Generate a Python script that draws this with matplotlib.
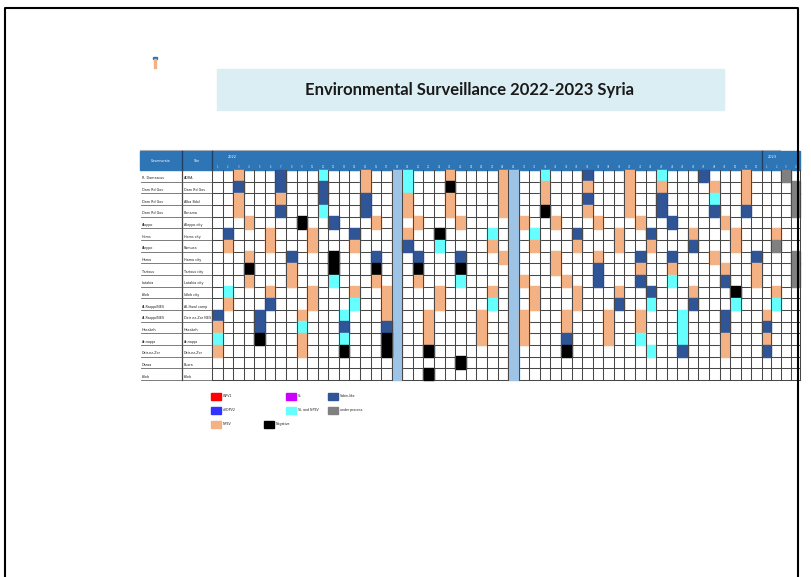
import matplotlib.pyplot as plt
from matplotlib.patches import Rectangle

# Сайти спостереження (губернаторство, місце відбору)
governorates = ["R. Damascus", "Dam Rd Gov", "Dam Rd Gov", "Dam Rd Gov", "Aleppo", "Homs",
                "Aleppo", "Hama", "Tartous", "Latakia", "Idleb", "Al-Raqqa/NES",
                "Al-Raqqa/NES", "Hasakeh", "Ar-raqqa", "Deir-ez-Zor", "Daraa", "Idleb"]
sites = ["ADRA", "Dam Rd Gov", "Alba Bdol", "Bonama", "Aleppo city", "Homs city",
         "Ramusa", "Hama city", "Tartous city", "Latakia city", "Idleb city", "Al-Hawl camp",
         "Deir ez-Zor NES", "Hasakeh", "Ar-raqqa", "Deir-ez-Zor", "Busra", "Idleb"]

# Результати по тижнях: (тиждень, код)
# O - NPEV, D - Sabin-like, C - SL and NPEV, K - negative, G - under process
res_2022 = [
    [(3, 'O'), (7, 'D'), (11, 'C'), (15, 'O'), (19, 'C'), (23, 'O'), (28, 'O'), (32, 'C'), (36, 'D'), (40, 'O'), (43, 'C'), (47, 'D'), (51, 'O')],
    [(3, 'D'), (7, 'D'), (11, 'D'), (15, 'O'), (19, 'C'), (23, 'K'), (28, 'O'), (32, 'O'), (36, 'O'), (40, 'O'), (43, 'O'), (48, 'O'), (51, 'O')],
    [(3, 'O'), (7, 'O'), (11, 'D'), (15, 'D'), (19, 'O'), (23, 'O'), (28, 'O'), (32, 'O'), (36, 'D'), (40, 'O'), (43, 'D'), (48, 'C'), (51, 'O')],
    [(3, 'O'), (7, 'D'), (11, 'C'), (15, 'D'), (19, 'O'), (23, 'O'), (28, 'O'), (32, 'K'), (36, 'O'), (40, 'O'), (43, 'D'), (48, 'D'), (51, 'D')],
    [(4, 'O'), (9, 'K'), (12, 'D'), (16, 'O'), (20, 'O'), (24, 'O'), (30, 'O'), (33, 'O'), (37, 'O'), (41, 'O'), (44, 'D'), (49, 'O')],
    [(2, 'D'), (6, 'O'), (10, 'O'), (14, 'D'), (19, 'O'), (22, 'K'), (27, 'C'), (31, 'C'), (35, 'D'), (39, 'O'), (42, 'D'), (46, 'O'), (50, 'O')],
    [(2, 'O'), (6, 'O'), (10, 'O'), (14, 'O'), (19, 'D'), (22, 'C'), (27, 'O'), (31, 'O'), (35, 'O'), (39, 'O'), (42, 'O'), (46, 'D'), (50, 'O')],
    [(4, 'O'), (8, 'D'), (12, 'K'), (16, 'D'), (20, 'D'), (24, 'D'), (28, 'O'), (33, 'O'), (37, 'O'), (41, 'D'), (44, 'D'), (48, 'O'), (52, 'D')],
    [(4, 'K'), (8, 'O'), (12, 'K'), (16, 'K'), (20, 'K'), (24, 'K'), (33, 'O'), (37, 'D'), (41, 'O'), (44, 'O'), (49, 'O'), (52, 'O')],
    [(4, 'O'), (8, 'O'), (12, 'C'), (16, 'O'), (20, 'O'), (24, 'C'), (30, 'O'), (34, 'O'), (37, 'D'), (41, 'D'), (44, 'C'), (49, 'D'), (52, 'O')],
    [(2, 'C'), (6, 'O'), (10, 'O'), (14, 'O'), (17, 'O'), (22, 'O'), (27, 'O'), (31, 'O'), (35, 'O'), (39, 'O'), (42, 'D'), (46, 'O'), (50, 'K')],
    [(2, 'O'), (6, 'D'), (10, 'O'), (14, 'C'), (17, 'O'), (22, 'O'), (27, 'C'), (31, 'O'), (35, 'O'), (39, 'D'), (42, 'C'), (46, 'D'), (50, 'C')],
    [(1, 'D'), (5, 'D'), (9, 'O'), (13, 'C'), (17, 'O'), (21, 'O'), (26, 'O'), (30, 'O'), (34, 'O'), (38, 'O'), (41, 'O'), (45, 'C'), (49, 'D')],
    [(1, 'O'), (5, 'D'), (9, 'C'), (13, 'D'), (17, 'D'), (21, 'O'), (26, 'O'), (30, 'O'), (34, 'O'), (38, 'O'), (41, 'O'), (45, 'C'), (49, 'D')],
    [(1, 'C'), (5, 'K'), (9, 'O'), (13, 'C'), (17, 'K'), (21, 'O'), (26, 'O'), (30, 'O'), (34, 'D'), (38, 'O'), (41, 'C'), (45, 'C'), (49, 'O')],
    [(1, 'O'), (9, 'O'), (13, 'K'), (17, 'K'), (21, 'K'), (34, 'K'), (42, 'C'), (45, 'D'), (49, 'O')],
    [(24, 'K')],
    [(21, 'K')],
]
res_2023 = [
    [(3, 'G')], [(4, 'G')], [(4, 'G')], [(4, 'G')], [], [(2, 'O')], [(2, 'G')], [(4, 'G')],
    [(4, 'G')], [(4, 'G')], [(2, 'O')], [(2, 'C')], [(1, 'O')], [(1, 'D')], [(1, 'O')],
    [(1, 'D')], [], [],
]

weeks_2022 = list(range(1, 53))
weeks_2023 = [1, 2, 3, 4]
holiday_weeks = [18, 29]  # світло-сині колонки

colors = {'O': '#F4B183', 'D': '#2F5597', 'C': '#66FFFF', 'K': '#000000', 'G': '#808080',
          'R': '#FF0000', 'B': '#3333FF', 'M': '#CC00FF'}

legend_labels = ["WPV1", "cVDPV2", "NPEV", "SL", "SL and NPEV", "Negative", "Sabin-like", "under process"]
legend_codes = ['R', 'B', 'O', 'M', 'C', 'K', 'D', 'G']
legend_pos = [(211, 393), (211, 407), (211, 421), (286, 393), (286, 407), (264, 421), (328, 393), (328, 407)]

# Геометрія таблиці (пікселі)
X0, W = 212, 10.575
X23, W23 = X0 + 52 * W, 9.55
Y0, H = 170, 11.67
HEAD_TOP = 151
GRID = '#474747'

fig = plt.figure(figsize=(8.12, 5.77), dpi=100)
ax = fig.add_axes([0, 0, 1, 1])
ax.set_xlim(0, 812)
ax.set_ylim(577, 0)
ax.axis('off')

def wx(week, year=2022):
    if year == 2022:
        return X0 + (week - 1) * W, W
    return X23 + (week - 1) * W23, W23

n_rows = len(sites)
y_end = Y0 + n_rows * H
x_end = X23 + len(weeks_2023) * W23

# рамка сторінки
ax.plot([5, 5, 798, 798], [577, 8, 8, 577], color='black', lw=1.5, zorder=10)

# маленька іконка
ax.add_patch(Rectangle((153.5, 57), 3.5, 1.6, color='#2E75B6', zorder=2))
ax.add_patch(Rectangle((154.5, 59), 1.5, 9, color='#F4B183', zorder=2))

# заголовок
ax.add_patch(Rectangle((217, 69), 507, 41, color='#DAEEF3', zorder=1))
ax.text(470, 90, "Environmental Surveillance 2022-2023 Syria", ha='center', va='center',
        fontsize=12, fontweight='bold', family='Lato', color='#1a1a1a', zorder=2)

# шапка таблиці
ax.plot([140, 780], [HEAD_TOP - 1.5, HEAD_TOP - 1.5], color='#bfbfbf', lw=0.8, zorder=2)
ax.add_patch(Rectangle((140, HEAD_TOP), x_end - 140, Y0 - HEAD_TOP, color='#2E75B6', zorder=2))
for xv in [182, 212, X23]:
    ax.plot([xv, xv], [HEAD_TOP, Y0], color='#1F3F66', lw=1.0, zorder=3)
ax.text(161, 161, "Governorate", color='white', fontsize=2.3, ha='center', va='center', zorder=4)
ax.text(197, 161, "Site", color='white', fontsize=2.3, ha='center', va='center', zorder=4)
ax.text(232, 157, "2022", color='white', fontsize=2.5, ha='center', va='center', zorder=4)
ax.text(X23 + 10, 157, "2023", color='white', fontsize=2.5, ha='center', va='center', zorder=4)
for wk in weeks_2022:
    x, w = wx(wk)
    ax.text(x + w / 2, 166.5, str(wk), color='#dce8f5', fontsize=1.8, ha='center', va='center', zorder=4)
for wk in weeks_2023:
    x, w = wx(wk, 2023)
    ax.text(x + w / 2, 166.5, str(wk), color='#dce8f5', fontsize=1.8, ha='center', va='center', zorder=4)

# горизонтальні лінії
for r in range(n_rows + 1):
    yy = Y0 + r * H
    ax.plot([X0, x_end], [yy, yy], color=GRID, lw=0.75, zorder=1)
    if r > 0:
        ax.plot([141, 181], [yy, yy], color='#666666', lw=0.6, zorder=1)
        ax.plot([183, 211], [yy, yy], color='#666666', lw=0.6, zorder=1)

# підписи рядків
for r in range(n_rows):
    yb = Y0 + (r + 1) * H - 1.5
    ax.text(142, yb, governorates[r], fontsize=2.4, ha='left', va='bottom', color='#222222', zorder=4)
    ax.text(184, yb, sites[r], fontsize=2.4, ha='left', va='bottom', color='#222222', zorder=4)

# світло-сині колонки
for wk in holiday_weeks:
    x, w = wx(wk)
    ax.add_patch(Rectangle((x, Y0 - 0.4), w, y_end - Y0 + 0.8, color='#9DC3E6', zorder=2))

# клітинки з результатами
for r in range(n_rows):
    for wk, code in res_2022[r]:
        x, w = wx(wk)
        ax.add_patch(Rectangle((x, Y0 + r * H - 0.4), w, H + 0.8, color=colors[code], zorder=2))
    for wk, code in res_2023[r]:
        x, w = wx(wk, 2023)
        ax.add_patch(Rectangle((x, Y0 + r * H - 0.4), w, H + 0.8, color=colors[code], zorder=2))

# вертикальні лінії
for wk in weeks_2022:
    x, w = wx(wk)
    ax.plot([x, x], [Y0, y_end], color=GRID, lw=0.75, zorder=3)
for wk in weeks_2023:
    x, w = wx(wk, 2023)
    ax.plot([x, x], [Y0, y_end], color=GRID, lw=0.75, zorder=3)
ax.plot([x_end, x_end], [Y0, y_end], color=GRID, lw=0.75, zorder=3)
ax.plot([182, 182], [Y0, y_end], color=GRID, lw=0.9, zorder=3)

# легенда
for (lx, ly), code, lab in zip(legend_pos, legend_codes, legend_labels):
    ax.add_patch(Rectangle((lx, ly), 10.5, 6.5, color=colors[code], zorder=2))
    ax.text(lx + 12, ly + 3.3, lab, fontsize=2.3, ha='left', va='center', color='#222222', zorder=4)

fig.savefig("out.png", dpi=100)
